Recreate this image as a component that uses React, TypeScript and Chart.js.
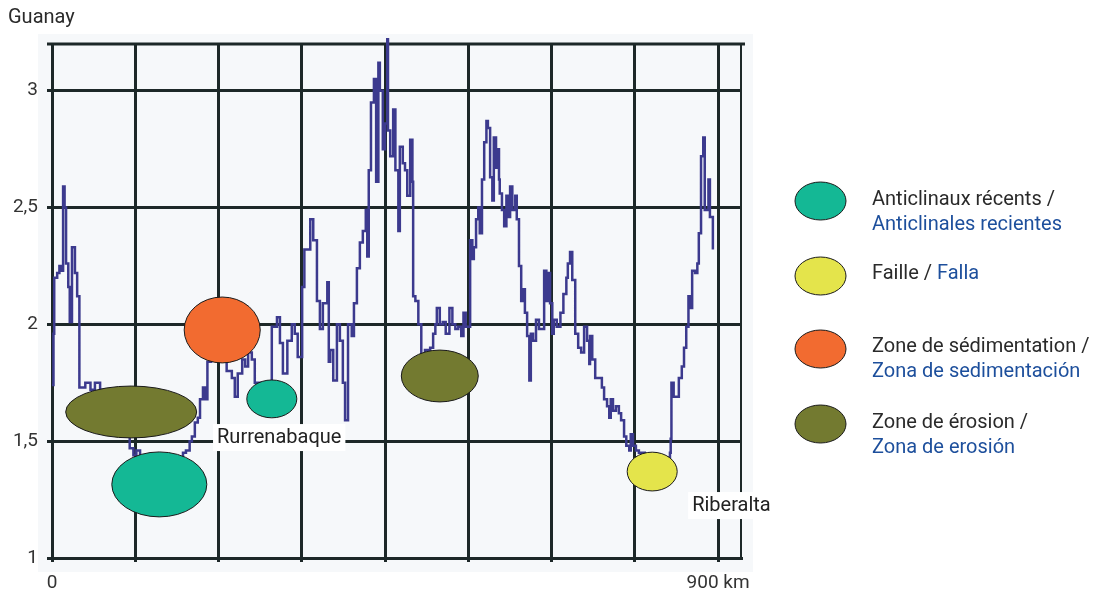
import React, { useEffect, useRef } from 'react';
import { Chart, registerables } from 'chart.js';

Chart.register(...registerables);

// ---- profile data (distance in km, relative value) ----
const distanceKm = [
  0, 2, 3, 7, 10, 13, 15, 17, 19, 22, 24, 27, 31, 34, 37, 45, 52, 58, 65, 72, 78, 85, 92, 98, 105, 110, 114, 119,
  126, 133, 146, 160, 173, 177, 181, 186, 189, 193, 197, 200, 204, 207, 210, 215, 222, 230, 236, 243, 247, 251,
  257, 261, 265, 270, 274, 284, 292, 297, 304, 308, 312, 318, 324, 328, 332, 338, 341, 349, 353, 358, 362, 366,
  372, 374, 376, 380, 385, 389, 393, 396, 400, 405, 408, 412, 416, 420, 424, 426, 428, 431, 435, 438, 441, 443,
  447, 450, 453, 454, 457, 461, 464, 468, 470, 474, 477, 480, 484, 487, 488, 491, 495, 499, 504, 511, 515, 518,
  520, 524, 528, 532, 537, 541, 545, 549, 553, 556, 559, 565, 568, 570, 573, 576, 578, 581, 584, 587, 589, 592,
  595, 597, 600, 601, 604, 605, 608, 611, 614, 616, 619, 622, 626, 628, 631, 634, 637, 639, 642, 645, 647, 650,
  654, 658, 662, 665, 668, 670, 673, 676, 678, 682, 687, 691, 695, 697, 700, 703, 707, 711, 715, 719, 723, 726,
  727, 730, 734, 741, 743, 746, 750, 753, 755, 758, 762, 766, 769, 773, 776, 780, 782, 785, 789, 793, 801, 815,
  828, 835, 836, 837, 840, 844, 847, 851, 854, 857, 860, 862, 865, 869, 872, 874, 877, 880, 882, 887, 889, 893,
];
const profileValue = [
  1.74, 1.96, 2.2, 2.22, 2.25, 2.23, 2.59, 2.5, 2.26, 2.16, 2.01, 2.33, 2.22, 2.12, 1.73, 1.75, 1.72, 1.75, 1.72, 1.7, 1.66, 1.62, 1.58, 1.52, 1.47, 1.44, 1.46, 1.42,
  1.4, 1.41, 1.43, 1.4, 1.42, 1.45, 1.46, 1.5, 1.52, 1.58, 1.6, 1.68, 1.73, 1.68, 1.84, 1.88, 1.95, 1.85, 1.8, 1.77, 1.69, 1.79,
  1.85, 1.82, 1.88, 1.85, 1.75, 1.73, 1.72, 1.99, 2.03, 1.92, 1.79, 1.93, 2.0, 1.96, 1.86, 2.16, 2.32, 2.45, 2.36, 2.1, 1.98, 2.09,
  2.18, 1.84, 1.89, 1.76, 2.0, 1.93, 1.75, 1.59, 2.0, 1.95, 2.09, 2.24, 2.35, 2.4, 2.49, 2.29, 2.66, 2.95, 3.05, 2.61, 3.12, 3.0,
  2.75, 2.86, 3.22, 2.83, 2.72, 2.92, 2.66, 2.4, 2.76, 2.69, 2.66, 2.55, 2.79, 2.61, 2.12, 2.1, 2.0, 1.83, 1.89, 1.9, 1.96, 2.0,
  2.07, 2.0, 2.01, 1.96, 2.07, 2.0, 1.98, 1.99, 1.95, 2.05, 1.99, 2.36, 2.28, 2.33, 2.45, 2.5, 2.39, 2.62, 2.78, 2.87, 2.84, 2.63,
  2.53, 2.8, 2.67, 2.75, 2.62, 2.56, 2.49, 2.42, 2.55, 2.46, 2.59, 2.49, 2.55, 2.45, 2.25, 2.1, 2.15, 2.05, 1.95, 1.76, 1.96, 1.93,
  2.02, 1.98, 1.98, 2.23, 2.1, 2.22, 2.09, 1.96, 2.02, 1.99, 2.05, 2.13, 2.2, 2.26, 2.31, 2.19, 1.96, 1.9, 1.88, 1.99, 1.93, 1.83,
  1.95, 1.85, 1.77, 1.77, 1.73, 1.68, 1.65, 1.6, 1.68, 1.63, 1.65, 1.62, 1.59, 1.52, 1.48, 1.46, 1.53, 1.48, 1.46, 1.45, 1.44, 1.42,
  1.43, 1.45, 1.51, 1.75, 1.69, 1.69, 1.77, 1.82, 1.9, 1.99, 2.12, 2.07, 2.23, 2.22, 2.26, 2.39, 2.72, 2.8, 2.49, 2.62, 2.46, 2.32,
];

// ---- axes ----
const xGridKm = [0, 112.5, 225, 337.5, 450, 562.5, 675, 787.5, 900];
const xTickLabels = ['0', '', '', '', '', '', '', '', '900 km'];
const xMaxKm = 931;
const yTicks = [1, 1.5, 2, 2.5, 3];
const yTickLabels = ['1', '1,5', '2', '2,5', '3'];
const yMin = 1;
const yMax = 3.2;

// ---- zones (ellipses) ----
const zoneKind = ['erosion', 'anticline', 'sedimentation', 'anticline', 'erosion', 'fault'];
const zoneKm = [107, 145, 230, 297, 524, 811];
const zoneValue = [1.625, 1.315, 1.976, 1.681, 1.779, 1.37];
const zoneRadiusKm = [88.5, 64.2, 51.4, 33.8, 52, 33.8];
const zoneRadiusValue = [0.111, 0.139, 0.141, 0.081, 0.111, 0.083];

// ---- place names ----
const placeNames = ['Rurrenabaque', 'Riberalta'];
const placeKm = [223, 865];
const placeValue = [1.492, 1.201];

// ---- legend ----
const legendKinds = ['anticline', 'fault', 'sedimentation', 'erosion'];
const legendFr = ['Anticlinaux récents /', 'Faille / ', 'Zone de sédimentation /', 'Zone de érosion /'];
const legendEs = ['Anticlinales recientes', 'Falla', 'Zona de sedimentación', 'Zona de erosión'];

const kindColor: Record<string, string> = {
  anticline: '#14b895',
  fault: '#e4e44b',
  sedimentation: '#f26b30',
  erosion: '#737a30',
};

const GRID = '#1d2828';
const LINE = '#3c3a8e';
const FONT = 'Roboto, "Noto Sans", sans-serif';

const overlayPlugin = {
  id: 'overlay',
  beforeDraw(chart: any) {
    const { ctx, chartArea: a } = chart;
    ctx.save();
    ctx.fillStyle = '#f6f8fa';
    ctx.fillRect(a.left - 14, a.top - 10, a.right - a.left + 26, a.bottom - a.top + 24);
    ctx.restore();
  },
  beforeDatasetsDraw(chart: any) {
    const { ctx, chartArea: a } = chart;
    ctx.save();
    ctx.strokeStyle = GRID;
    ctx.lineWidth = 3;
    ctx.beginPath();
    ctx.moveTo(a.left - 5, a.top);
    ctx.lineTo(a.right + 4, a.top);
    ctx.stroke();
    ctx.lineWidth = 2;
    ctx.beginPath();
    ctx.moveTo(a.right, a.top);
    ctx.lineTo(a.right, a.bottom);
    ctx.stroke();
    ctx.restore();
  },
  afterDatasetsDraw(chart: any) {
    const { ctx } = chart;
    const xs = chart.scales.x;
    const ys = chart.scales.y;
    ctx.save();
    zoneKm.forEach((km, i) => {
      const cx = xs.getPixelForValue(km);
      const cy = ys.getPixelForValue(zoneValue[i]);
      const rx = xs.getPixelForValue(km + zoneRadiusKm[i]) - cx;
      const ry = cy - ys.getPixelForValue(zoneValue[i] + zoneRadiusValue[i]);
      ctx.beginPath();
      ctx.ellipse(cx, cy, rx, ry, 0, 0, Math.PI * 2);
      ctx.fillStyle = kindColor[zoneKind[i]];
      ctx.fill();
      ctx.lineWidth = 1;
      ctx.strokeStyle = '#1a1a1a';
      ctx.stroke();
    });
    ctx.font = `20px ${FONT}`;
    ctx.textBaseline = 'alphabetic';
    placeNames.forEach((name, i) => {
      const x = xs.getPixelForValue(placeKm[i]);
      const y = ys.getPixelForValue(placeValue[i]);
      const w = ctx.measureText(name).width;
      ctx.fillStyle = '#ffffff';
      ctx.fillRect(x - 4, y - 19, w + 8, 27);
      ctx.fillStyle = '#222222';
      ctx.fillText(name, x, y);
    });
    ctx.restore();
  },
  afterDraw(chart: any) {
    const { ctx } = chart;
    ctx.save();
    ctx.font = `20px ${FONT}`;
    ctx.textBaseline = 'alphabetic';
    ctx.fillStyle = '#2a2a2a';
    ctx.fillText('Guanay', 8, 23);

    const ellY = [201, 276, 349, 424];
    const frY = [205, 279, 352, 428];
    const esY = [230, 279, 377, 453];
    legendKinds.forEach((k, i) => {
      ctx.beginPath();
      ctx.ellipse(820.5, ellY[i], 25.5, 19, 0, 0, Math.PI * 2);
      ctx.fillStyle = kindColor[k];
      ctx.fill();
      ctx.lineWidth = 1;
      ctx.strokeStyle = '#1a1a1a';
      ctx.stroke();
      ctx.fillStyle = '#2a2a2a';
      ctx.fillText(legendFr[i], 872, frY[i]);
      ctx.fillStyle = '#1d4f9c';
      const ex = frY[i] === esY[i] ? 872 + ctx.measureText(legendFr[i]).width : 872;
      ctx.fillText(legendEs[i], ex, esY[i]);
    });
    ctx.restore();
  },
};

export default function App() {
  const ref = useRef<HTMLCanvasElement>(null);
  useEffect(() => {
    const points = distanceKm.map((km, i) => ({ x: km, y: profileValue[i] }));
    const chart = new Chart(ref.current as HTMLCanvasElement, {
      type: 'line',
      data: {
        datasets: [
          {
            data: points,
            borderColor: LINE,
            borderWidth: 2.5,
            pointRadius: 0,
            stepped: true,
            tension: 0,
            fill: false,
            clip: 10,
          } as any,
        ],
      },
      options: {
        animation: false,
        responsive: false,
        events: [],
        layout: { padding: { left: 8, top: 44, right: 365, bottom: 0 } },
        plugins: { legend: { display: false }, tooltip: { enabled: false }, title: { display: false } },
        scales: {
          x: {
            type: 'linear',
            min: 0,
            max: xMaxKm,
            afterBuildTicks: (s: any) => {
              s.ticks = xGridKm.map((v) => ({ value: v }));
            },
            afterFit: (s: any) => {
              s.height = 36;
              s.paddingLeft = 0;
              s.paddingRight = 0;
              s.paddingTop = 0;
              s.paddingBottom = 0;
            },
            grid: { color: GRID, lineWidth: 3, tickLength: 4, drawTicks: true },
            border: { color: GRID, width: 3 },
            ticks: {
              autoSkip: false,
              maxRotation: 0,
              padding: 10,
              color: '#333333',
              font: { family: FONT, size: 19 },
              callback: (_v: any, i: number) => xTickLabels[i],
            },
          },
          y: {
            type: 'linear',
            min: yMin,
            max: yMax,
            afterBuildTicks: (s: any) => {
              s.ticks = yTicks.map((v) => ({ value: v }));
            },
            afterFit: (s: any) => {
              s.width = 44;
              s.paddingLeft = 0;
              s.paddingRight = 0;
              s.paddingTop = 0;
              s.paddingBottom = 0;
            },
            grid: { color: GRID, lineWidth: 3, tickLength: 5 },
            border: { color: GRID, width: 3 },
            ticks: {
              padding: 9,
              color: '#333333',
              font: { family: FONT, size: 19 },
              callback: (_v: any, i: number) => yTickLabels[i],
            },
          },
        },
      },
      plugins: [overlayPlugin],
    });
    return () => chart.destroy();
  }, []);
  return (
    <div style={{ position: 'fixed', left: 0, top: 0, width: 1106, height: 594, background: '#ffffff' }}>
      <canvas ref={ref} width={1106} height={594} style={{ display: 'block', width: 1106, height: 594 }} />
    </div>
  );
}
